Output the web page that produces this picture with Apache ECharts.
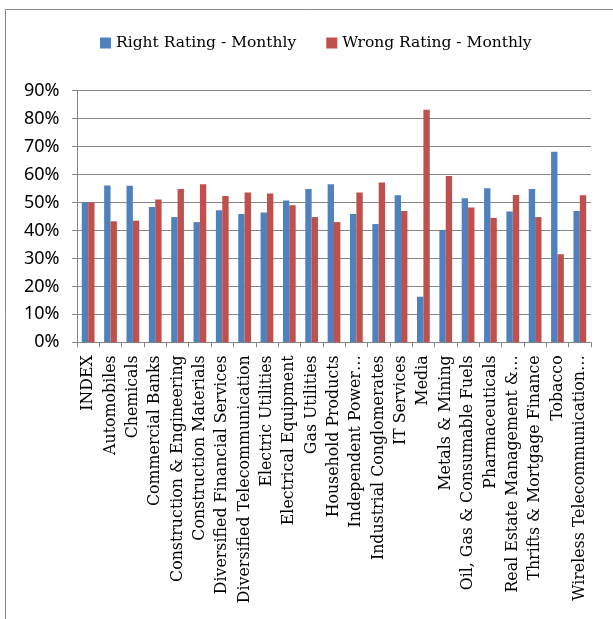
<!DOCTYPE html>
<html><head><meta charset="utf-8">
<script src="https://cdn.jsdelivr.net/npm/echarts@6/dist/echarts.min.js"></script>
<style>html,body{margin:0;padding:0;background:#fff}#c{width:613px;height:619px}</style>
</head><body><div id="c"></div>
<script>
const categories = ["INDEX","Automobiles","Chemicals","Commercial Banks","Construction & Engineering","Construction Materials","Diversified Financial Services","Diversified Telecommunication","Electric Utilities","Electrical Equipment","Gas Utilities","Household Products","Independent Power…","Industrial Conglomerates","IT Services","Media","Metals & Mining","Oil, Gas & Consumable Fuels","Pharmaceuticals","Real Estate Management &…","Thrifts & Mortgage Finance","Tobacco","Wireless Telecommunication…"];
const rightRating = [50.0,56.1,56.0,48.4,44.8,43.0,47.2,45.9,46.4,50.7,54.8,56.5,45.9,42.3,52.6,16.3,40.2,51.5,55.1,46.8,54.8,68.2,47.0];
const wrongRating = [50.0,43.3,43.5,51.1,54.8,56.5,52.3,53.6,53.2,49.0,44.8,43.0,53.6,57.2,47.0,83.2,59.5,48.2,44.5,52.7,44.8,31.5,52.6];
const seriesNames = ["Right Rating - Monthly","Wrong Rating - Monthly"];
const yTicks = {min:0, max:90, interval:10};

const SERIF = 'DejaVu Serif';
const SANS = 'Noto Sans';
const chart = echarts.init(document.getElementById('c'), null, {renderer:'canvas'});
chart.setOption({
  animation:false,
  textStyle:{fontFamily:SERIF, color:'#000'},
  graphic:[{type:'rect', shape:{x:5.5,y:9.5,width:800,height:800}, style:{fill:'none', stroke:'#868686', lineWidth:1}, silent:true}],
  legend:{
    left:100, top:35, padding:0, icon:'rect', itemWidth:11, itemHeight:11, itemGap:30,
    textStyle:{fontFamily:SERIF, fontSize:15.5, color:'#000'},
    data:seriesNames
  },
  grid:{left:77, right:22, top:90.7, bottom:276.7, containLabel:false},
  xAxis:{
    type:'category', data:categories,
    axisLine:{lineStyle:{color:'#868686', width:1}},
    axisTick:{show:true, length:5, lineStyle:{color:'#868686'}},
    axisLabel:{interval:0, rotate:90, margin:13, fontFamily:SERIF, fontSize:15.8, color:'#000'}
  },
  yAxis:{
    type:'value', min:yTicks.min, max:yTicks.max, interval:yTicks.interval,
    axisLine:{show:true, lineStyle:{color:'#868686', width:1}},
    axisTick:{show:true, length:5, lineStyle:{color:'#868686'}},
    splitLine:{lineStyle:{color:'#868686', width:1}},
    axisLabel:{formatter:'{value}%', margin:17.5, fontFamily:SANS, fontSize:18, color:'#000'}
  },
  series:[
    {name:seriesNames[0], type:'bar', data:rightRating, barGap:'0%', barCategoryGap:'43%', itemStyle:{color:'#4F81BD'}},
    {name:seriesNames[1], type:'bar', data:wrongRating, barGap:'0%', barCategoryGap:'43%', itemStyle:{color:'#C0504D'}}
  ]
});
</script></body></html>
